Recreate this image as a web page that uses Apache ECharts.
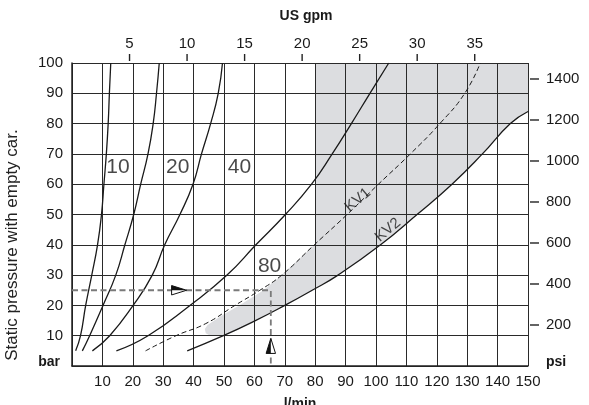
<!DOCTYPE html>
<html><head><meta charset="utf-8">
<script src="https://cdn.jsdelivr.net/npm/echarts@6/dist/echarts.min.js"></script>
<style>html,body{margin:0;padding:0;background:#fff}#c{width:589px;height:405px}</style>
</head><body><div id="c"></div>
<script>
const FONT = '"Liberation Sans", Arial, Helvetica, sans-serif';
const INK = '#1a1a1a';

// axis scales
const lminMax = 150;
const barMax = 100;
const LMIN_PER_GPM = 3.785;
const PSI_PER_BAR = 14.78;
const gpmMax = lminMax / LMIN_PER_GPM;
const psiMax = barMax * PSI_PER_BAR;
const gpmTicks = [5, 10, 15, 20, 25, 30, 35];
const psiTicks = [200, 400, 600, 800, 1000, 1200, 1400];

// curves: [l/min, bar]
const curve10 = [[1.2,5],[2.8,10],[4.5,20],[6.5,30],[8.4,40],[9.7,50],[10.5,60],[11.3,70],[11.9,80],[12.3,90],[12.75,100]];
const curve20 = [[3.4,5],[5.8,10],[10.2,20],[14.4,30],[17.4,40],[20.3,50],[22.6,60],[25,70],[26.7,80],[27.8,90],[28.7,100]];
const curve40 = [[6.7,5],[12.4,10],[20.1,20],[26.4,30],[30.5,40],[35.5,50],[39.8,60],[42.6,70],[45.6,80],[48.1,90],[49.5,100]];
const curve80 = [[14.6,5],[25,10],[38.8,20],[51,30],[60.5,40],[70.2,50],[78.8,60],[85.6,70],[91.9,80],[98,90],[104.2,100]];
const curveKV1 = [[24.2,5],[34.2,10],[44,14],[53.6,20],[61.8,25],[69,30],[79.7,40],[90.5,50],[100.8,60],[111.3,70],[121,80],[129.2,90],[134.3,100]];
const curveKV2 = [[37.9,5],[49.8,10],[60,14.8],[70,20],[79,25],[87.5,30],[101.5,40],[113.5,50],[125,60],[135,70],[144.2,80],[150,84]];

// shaded operating region: KV2 forms the lower edge, this is the rest of its outline
const shadeTop = [[150,100],[80,100]];
const shadeLeftEdge = [[80,40.3],[69,30],[63,25],[55,20],[49,16.5],[44.6,13.5],[43.7,12.2],[44,10.8],[45.5,10]];

// example reading: dashed guide and arrows
const guidePath = [[0,25],[65.4,25],[65.4,0]];
const arrowTips = [[37.7,25,'right'],[65.4,9.1,'up']];

// text labels
const curveLabels = [[15.1,65.5,'10'],[34.8,65.5,'20'],[55.1,65.5,'40'],[65.0,32.8,'80']];
const kvLabels = [[94,54.8,'KV1'],[103.9,44.9,'KV2']];

const shadeRegion = curveKV2.filter(p => p[0] >= 49.8).concat(shadeTop, shadeLeftEdge);

const chart = echarts.init(document.getElementById('c'), null, {renderer:'canvas'});

function curveSeries(data, dashed){
  return {
    type:'line', data, showSymbol:false, smooth:true, silent:true, z:3,
    lineStyle:{color:INK, width: dashed ? 1 : 1.3, type: dashed ? [5,3] : 'solid'}
  };
}

// outer tick marks drawn on the secondary (top / right) axes
function tickSeries(data, dir){
  return {
    type:'custom', xAxisIndex:1, yAxisIndex:1, z:4, silent:true, clip:false, data,
    renderItem:(params, api) => {
      const p = api.coord([api.value(0), api.value(1)]);
      const shape = dir === 'up'
        ? {x1:p[0], y1:p[1]-2, x2:p[0], y2:p[1]-9}
        : {x1:p[0]+2, y1:p[1], x2:p[0]+11, y2:p[1]};
      return {type:'line', shape, style:{stroke:'#222', lineWidth:1.4}};
    }
  };
}

const option = {
  backgroundColor:'#fff',
  animation:false,
  textStyle:{fontFamily:FONT},
  grid:{left:72, right:61, top:63, bottom:39, containLabel:false, outerBoundsMode:'none'},
  xAxis:[{
    type:'value', min:0, max:lminMax, interval:10, position:'bottom', z:1,
    name:'l/min', nameLocation:'middle', nameGap:31,
    nameTextStyle:{fontFamily:FONT, fontSize:14, fontWeight:'bold', color:INK},
    axisLine:{show:true, lineStyle:{color:'#222', width:1.5}},
    axisTick:{show:false},
    axisLabel:{margin:8, fontSize:15, color:INK, fontFamily:FONT, formatter:v => v === 0 ? '' : String(v)},
    splitLine:{show:true, lineStyle:{color:'#2a2a2a', width:1}}
  },{
    type:'value', min:0, max:gpmMax, position:'top', offset:2, z:1,
    name:'US gpm', nameLocation:'middle', nameGap:38,
    nameTextStyle:{fontFamily:FONT, fontSize:14, fontWeight:'bold', color:INK, padding:[0,0,0,12]},
    axisLine:{show:false},
    axisTick:{show:false},
    axisLabel:{margin:10, fontSize:15, color:INK, fontFamily:FONT, customValues:gpmTicks},
    splitLine:{show:false}
  }],
  yAxis:[{
    type:'value', min:0, max:barMax, interval:10, position:'left', z:1,
    axisLine:{show:true, lineStyle:{color:'#222', width:1.5}},
    axisTick:{show:false},
    axisLabel:{margin:9, fontSize:15, color:INK, fontFamily:FONT,
      formatter:v => v === 0 ? '{u|bar}' : String(v),
      rich:{u:{fontFamily:FONT, fontSize:14, fontWeight:'bold', color:INK, padding:[0,3,8,0]}}},
    splitLine:{show:true, lineStyle:{color:'#2a2a2a', width:1}}
  },{
    type:'value', min:0, max:psiMax, position:'right', offset:2, z:1,
    axisLine:{show:false},
    axisTick:{show:false},
    axisLabel:{margin:16, fontSize:15, color:INK, fontFamily:FONT,
      customValues:[0].concat(psiTicks),
      formatter:v => v === 0 ? '{u|psi}' : String(v),
      rich:{u:{fontFamily:FONT, fontSize:14, fontWeight:'bold', color:INK, padding:[0,0,8,0]}}},
    splitLine:{show:false}
  }],
  graphic:[{
    type:'text', x:12, y:245, rotation:Math.PI/2,
    style:{text:'Static pressure with empty car.', font:'17px ' + FONT, fill:'#222',
      textAlign:'center', textVerticalAlign:'middle'}
  }],
  series:[
    {
      type:'custom', z:0, silent:true, data:[[0,0]],
      renderItem:(params, api) => ({
        type:'polygon',
        shape:{points: shadeRegion.map(p => api.coord(p)), smooth:0},
        style:{fill:'#dcdde0'}
      })
    },
    curveSeries(curve10), curveSeries(curve20), curveSeries(curve40), curveSeries(curve80),
    curveSeries(curveKV1, true), curveSeries(curveKV2),
    {
      type:'line', data:guidePath, showSymbol:false, silent:true, z:3,
      lineStyle:{color:'#7a7a7a', width:1.8, type:[6,3.5]}
    },
    {
      type:'custom', z:4, silent:true, data:arrowTips.map(a => [a[0], a[1]]),
      renderItem:(params, api) => {
        const a = arrowTips[params.dataIndex];
        const p = api.coord([a[0], a[1]]);
        const L = 15, H = 4.7;
        let full, half;
        if (a[2] === 'right') {
          full = [[p[0],p[1]],[p[0]-L,p[1]-H],[p[0]-L,p[1]+H]];
          half = [[p[0],p[1]],[p[0]-L,p[1]-H],[p[0]-L,p[1]]];
        } else {
          full = [[p[0],p[1]],[p[0]-H,p[1]+L],[p[0]+H,p[1]+L]];
          half = [[p[0],p[1]],[p[0]-H,p[1]+L],[p[0],p[1]+L]];
        }
        return {type:'group', children:[
          {type:'polygon', shape:{points:full}, style:{fill:'#fff', stroke:'#111', lineWidth:1}},
          {type:'polygon', shape:{points:half}, style:{fill:'#111'}}
        ]};
      }
    },
    tickSeries(gpmTicks.map(g => [g, psiMax]), 'up'),
    tickSeries(psiTicks.map(p => [gpmMax, p]), 'right'),
    {
      type:'scatter', symbolSize:0, silent:true, z:5,
      data:curveLabels.map(l => ({value:[l[0], l[1]], name:l[2]})),
      label:{show:true, position:'inside', formatter:'{b}', fontSize:21, color:INK, fontFamily:FONT}
    },
    {
      type:'scatter', symbolSize:0, silent:true, z:5,
      data:kvLabels.map(l => ({value:[l[0], l[1]], name:l[2]})),
      label:{show:true, position:'inside', formatter:'{b}', fontSize:15, color:INK, fontFamily:FONT, rotate:40}
    }
  ]
};
chart.setOption(option);
</script>
</body></html>
